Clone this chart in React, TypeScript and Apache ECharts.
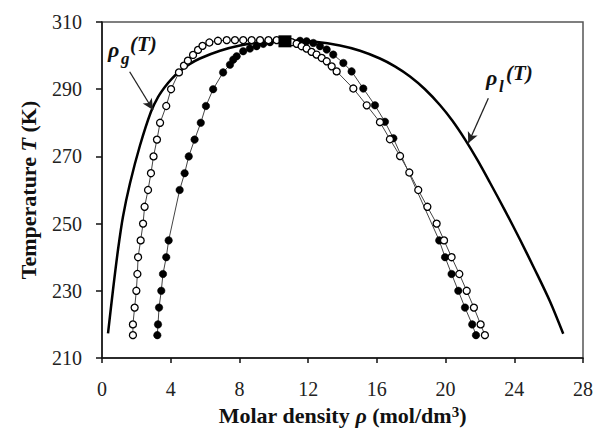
import React, { useEffect, useRef } from "react";
import * as echarts from "echarts";

// Tick values
const xTicks = { min: 0, max: 28, interval: 4 };
const yTicks = { min: 210, max: 310, interval: 20 };

// Saturation curve (solid line) [rho, T]
const solidCurve: number[][] = [
  [0.35, 217.35], [0.64, 230.24], [0.93, 242.14], [1.22, 252.05], [1.63, 262.0],
  [2.21, 273.24], [2.85, 283.3], [3.26, 287.65], [3.67, 290.73], [4.07, 293.18],
  [4.54, 295.42], [5.12, 297.53], [5.7, 299.14], [6.87, 301.44], [8.03, 303.01],
  [9.49, 304.12], [10.94, 304.49], [12.4, 304.12], [13.85, 303.01], [15.02, 301.44],
  [16.18, 299.14], [17.05, 296.79], [17.93, 293.78], [18.8, 289.99], [19.67, 285.3],
  [20.4, 280.6], [21.13, 275.06], [21.86, 268.87], [22.58, 262.23], [23.46, 253.87],
  [24.33, 245.27], [25.2, 236.28], [26.08, 226.82], [26.85, 217.2],
];

// Open circles [rho, T]
const openLeft: number[][] = [
  [1.8, 216.8], [1.8, 220], [1.9, 225], [2.0, 230], [2.06, 235], [2.1, 240],
  [2.25, 245], [2.39, 250], [2.48, 255], [2.68, 260], [2.85, 265], [3.0, 270],
  [3.2, 275], [3.38, 280], [3.74, 285], [4.02, 290], [4.48, 295], [4.77, 297],
  [5.0, 298.5], [5.3, 300.2], [5.59, 301.7], [5.85, 302.9], [6.25, 303.9],
  [6.75, 304.4], [7.26, 304.6], [7.74, 304.6], [8.22, 304.6], [8.71, 304.6],
  [9.2, 304.6], [9.69, 304.6], [10.17, 304.6],
];
const openRight: number[][] = [
  [11.04, 304.0], [11.33, 303.5], [11.62, 302.8], [11.91, 302.1], [12.2, 301.1],
  [12.49, 300.3], [12.79, 299.3], [13.08, 298.3], [13.37, 296.8], [13.66, 295.3],
  [14.63, 290.2], [15.41, 285.2], [16.18, 280.2], [16.76, 275.1], [17.35, 270.1],
  [17.89, 265.2], [18.41, 260], [18.94, 255], [19.48, 250], [19.91, 245],
  [20.35, 240], [20.8, 235], [21.23, 230], [21.65, 225], [22.04, 220], [22.29, 216.8],
];

// Filled circles [rho, T]
const filledLeft: number[][] = [
  [3.22, 216.8], [3.26, 220], [3.32, 225], [3.45, 230], [3.55, 235], [3.74, 240],
  [3.88, 245], [4.52, 260], [4.81, 265], [5.05, 270], [5.39, 275], [5.75, 280],
  [6.05, 285], [6.47, 290], [7.05, 295], [7.45, 297.3], [7.64, 298.8],
  [7.84, 299.8], [8.22, 301.3], [8.61, 302.1], [9.0, 302.8], [9.39, 303.5],
  [9.78, 304.0],
];
const filledRight: number[][] = [
  [11.53, 304.4], [11.91, 304.25], [12.3, 303.75], [12.69, 302.8], [13.08, 301.8],
  [13.46, 300.3], [14.05, 297.8], [14.53, 295.3], [15.21, 290.2], [15.89, 285.2],
  [16.47, 280.3], [16.96, 275.4], [19.63, 245], [19.97, 240], [20.35, 235],
  [20.74, 230], [21.13, 225], [21.55, 220], [21.77, 216.8],
];

// Critical point
const criticalPoint: number[][] = [[10.65, 304.25]];

// Arrow annotations [start, end]
const arrowGas: number[][] = [[1.61, 295.2], [2.97, 283.8]];
const arrowLiq: number[][] = [[22.49, 287.3], [21.32, 273.9]];

const SERIF = "'Liberation Serif', 'Times New Roman', serif";

export default function App() {
  const ref = useRef<HTMLDivElement>(null);
  useEffect(() => {
    if (!ref.current) return;
    const chart = echarts.init(ref.current, undefined, { renderer: "svg" });
    chart.setOption({
      animation: false,
      grid: {
        left: 102, top: 22, right: 26, bottom: 70,
        outerBoundsMode: "none",
        containLabel: false,
        show: true, borderColor: "#555", borderWidth: 1.5, backgroundColor: "#fff",
      },
      xAxis: {
        type: "value",
        min: xTicks.min, max: xTicks.max, interval: xTicks.interval,
        name: "{b|Molar density }{bi|ρ}{b| (mol/dm}{sup|3}{b|)}",
        nameLocation: "middle",
        nameGap: 46,
        nameMoveOverlap: false,
        nameTextStyle: {
          lineHeight: 22,
          rich: {
            b: { fontFamily: SERIF, fontWeight: "bold", fontSize: 22, color: "#111", lineHeight: 22 },
            bi: { fontFamily: SERIF, fontWeight: "bold", fontStyle: "italic", fontSize: 22, color: "#111", lineHeight: 22 },
            sup: { fontFamily: SERIF, fontWeight: "bold", fontSize: 15, color: "#111", lineHeight: 22, verticalAlign: "top" },
          },
        },
        axisLine: { onZero: false, lineStyle: { color: "#111", width: 1.5 } },
        axisTick: { length: 5, lineStyle: { color: "#111", width: 1.5 } },
        axisLabel: { fontFamily: SERIF, fontSize: 20, lineHeight: 18, color: "#222", margin: 22 },
        splitLine: { show: false },
      },
      yAxis: {
        type: "value",
        min: yTicks.min, max: yTicks.max, interval: yTicks.interval,
        name: "{b|Temperature }{bi|T}{b| (K)}",
        nameLocation: "middle",
        nameGap: 63,
        nameMoveOverlap: false,
        nameRotate: 90,
        nameTextStyle: {
          rich: {
            b: { fontFamily: SERIF, fontWeight: "bold", fontSize: 22, color: "#111" },
            bi: { fontFamily: SERIF, fontWeight: "bold", fontStyle: "italic", fontSize: 22, color: "#111" },
          },
        },
        axisLine: { onZero: false, lineStyle: { color: "#111", width: 1.5 } },
        axisTick: { length: 6, lineStyle: { color: "#111", width: 1.5 } },
        axisLabel: { fontFamily: SERIF, fontSize: 20, color: "#222", margin: 20 },
        splitLine: { show: false },
      },
      series: [
        {
          type: "line",
          data: solidCurve,
          smooth: 0.3,
          showSymbol: false,
          symbol: "none",
          lineStyle: { color: "#000", width: 2.5 },
          z: 2,
          markLine: {
            silent: true,
            symbol: ["none", "arrow"],
            symbolSize: [8, 11],
            label: { show: false },
            lineStyle: { color: "#222", width: 1.3, type: "solid" },
            data: [
              [{ coord: arrowGas[0] }, { coord: arrowGas[1] }],
              [{ coord: arrowLiq[0] }, { coord: arrowLiq[1] }],
            ],
          },
        },
        {
          type: "line",
          data: [...filledLeft, ...filledRight],
          symbol: "circle",
          symbolSize: 7.5,
          showAllSymbol: true,
          itemStyle: { color: "#000", borderColor: "#000", borderWidth: 0.5 },
          lineStyle: { color: "#444", width: 1 },
          z: 3,
        },
        {
          type: "line",
          data: [...openLeft, ...openRight],
          symbol: "circle",
          symbolSize: 7,
          showAllSymbol: true,
          itemStyle: { color: "#fff", borderColor: "#000", borderWidth: 1.3 },
          lineStyle: { color: "#444", width: 1 },
          z: 4,
        },
        {
          type: "scatter",
          data: criticalPoint,
          symbol: "rect",
          symbolSize: [13, 12],
          itemStyle: { color: "#000", opacity: 1 },
          z: 10,
        },
      ],
      graphic: [
        { type: "text", left: 108, top: 38, style: { text: "ρ", font: `bold italic 22px ${SERIF}`, fill: "#111" } },
        { type: "text", left: 121, top: 50, style: { text: "g", font: `bold italic 17px ${SERIF}`, fill: "#111" } },
        { type: "text", left: 130, top: 33, style: { text: "(T)", font: `bold italic 21px ${SERIF}`, fill: "#111" } },
        { type: "text", left: 486, top: 66, style: { text: "ρ", font: `bold italic 22px ${SERIF}`, fill: "#111" } },
        { type: "text", left: 499, top: 78, style: { text: "l", font: `bold italic 17px ${SERIF}`, fill: "#111" } },
        { type: "text", left: 506, top: 62, style: { text: "(T)", font: `bold italic 21px ${SERIF}`, fill: "#111" } },
      ],
    });
    return () => chart.dispose();
  }, []);
  return (
    <div
      ref={ref}
      style={{ position: "fixed", left: 0, top: 0, width: 609, height: 428, background: "#fff" }}
    />
  );
}
